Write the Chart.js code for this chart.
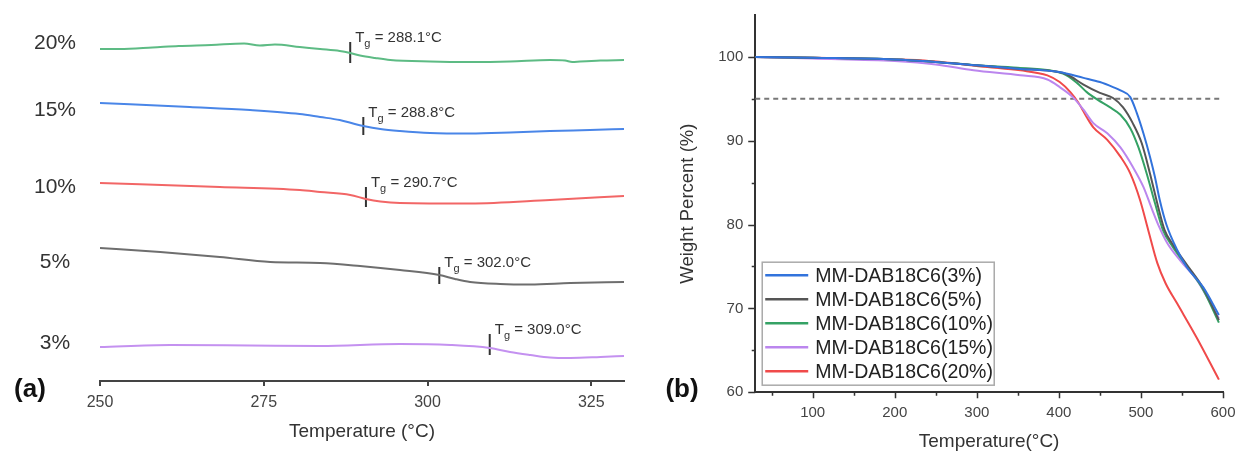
<!DOCTYPE html>
<html>
<head>
<meta charset="utf-8">
<script src="https://cdn.jsdelivr.net/npm/chart.js@4.4.0/dist/chart.umd.min.js"></script>
<style>
  html, body { margin: 0; padding: 0; background: #fff; }
  #wrap { position: relative; width: 1239px; height: 453px; }
  #dscBox { position: absolute; left: 0; top: 0; }
  #tgaBox { position: absolute; left: 640px; top: 0; }
</style>
</head>
<body>
<div id="wrap">
  <div id="dscBox"><canvas id="dscCanvas" width="640" height="453"></canvas></div>
  <div id="tgaBox"><canvas id="tgaCanvas" width="599" height="453"></canvas></div>
</div>
<script>
const FONT = "'Liberation Sans', Arial, sans-serif";

// ---- (a) DSC curves, stacked with an offset (heat flow in arbitrary units)
const dscNames = ["20%", "15%", "10%", "5%", "3%"];
const dscTicks = [250, 275, 300, 325];

const dsc20Temp = [250, 253, 258, 262, 267, 272, 274.4, 276.7, 280.5, 283.6, 286.6, 288.2, 289.7, 292, 294.3, 300.4, 306.5, 312.6, 318.7, 321, 322.1, 323.3, 326.4, 330];
const dsc20Heat = [332, 332, 333.5, 335, 336, 337.5, 335.5, 336.5, 334, 332, 330, 328, 325.5, 323, 321, 319.5, 319, 319.5, 321, 320.5, 319, 319.5, 320.5, 321];
const dsc15Temp = [250, 263.7, 272.9, 280.5, 283.6, 286.6, 288.9, 290.2, 292.8, 295.8, 300.4, 306.5, 312.6, 318.7, 324.8, 330];
const dsc15Heat = [278, 274, 271, 267, 264, 261, 257, 255, 252, 250, 248, 247.5, 248.5, 250, 251, 252];
const dsc10Temp = [250, 268.3, 280.5, 283.6, 288.2, 290.6, 292.8, 295.8, 306.5, 318.7, 330];
const dsc10Heat = [198, 194, 191, 189, 186, 182, 179.5, 178, 177.5, 181, 185];
const dsc5Temp = [250, 259.2, 268.3, 276, 283.6, 289.7, 295.8, 301.8, 304.2, 306.5, 311.1, 315.7, 321.8, 330];
const dsc5Heat = [133, 129, 124, 119, 118, 115, 111, 106, 102, 99, 97, 96.5, 98, 99];
const dsc3Temp = [250, 260.7, 272.9, 283.6, 295.8, 303.5, 309.5, 312.6, 315.7, 318.7, 321.8, 326.4, 330];
const dsc3Heat = [34, 36, 35.5, 35, 37, 36, 33, 29, 26, 23.5, 23, 24, 25];

const dscNameLevel = [338, 271, 194, 119, 38];
const tgValues = ["288.1", "288.8", "290.7", "302.0", "309.0"];
const tgMarkTemp = [288.2, 290.2, 290.6, 301.8, 309.5];
const tgMarkLow = [318, 246, 174, 97, 26];
const tgMarkHigh = [339, 264, 194, 114, 47];

// ---- (b) TGA curves
const tgaNames = ["MM-DAB18C6(3%)", "MM-DAB18C6(5%)", "MM-DAB18C6(10%)", "MM-DAB18C6(15%)", "MM-DAB18C6(20%)"];
const tgaXTicks = [50, 100, 150, 200, 250, 300, 350, 400, 450, 500, 550, 600];
const tgaYTicks = [60, 65, 70, 75, 80, 85, 90, 95, 100];
const tgaRefLine = 95;

const tga3Temp = [30, 100, 200, 250, 300, 350, 400, 430, 450, 466, 475, 487, 495, 503, 511, 517, 523, 531, 544, 556, 576, 595];
const tga3Weight = [100, 99.9, 99.7, 99.4, 99.0, 98.6, 98.2, 97.5, 97.0, 96.4, 96.0, 95.2, 93.3, 90.9, 88.1, 85.7, 82.9, 80.0, 77.0, 74.9, 72.5, 69.2];
const tga5Temp = [30, 100, 200, 250, 300, 350, 400, 410, 430, 450, 466, 478, 490, 501, 511, 521, 529, 539, 556, 576, 595];
const tga5Weight = [100, 99.9, 99.7, 99.4, 99.0, 98.6, 98.2, 97.9, 96.7, 95.7, 95.1, 94.0, 92.1, 89.7, 86.1, 82.1, 79.3, 77.6, 75.2, 72.4, 68.6];
const tga10Temp = [30, 100, 200, 250, 300, 350, 405, 422, 434, 447, 462, 475, 487, 497, 507, 517, 527, 539, 556, 576, 595];
const tga10Weight = [100, 99.9, 99.7, 99.4, 99.0, 98.7, 98.0, 96.9, 95.8, 94.9, 94.0, 93.1, 91.5, 89.2, 86.1, 82.6, 79.3, 77.3, 75.0, 72.2, 68.3];
const tga15Temp = [30, 100, 200, 250, 296, 353, 386, 401, 417, 430, 442, 459, 475, 490, 503, 514, 521, 532, 548, 568, 595];
const tga15Weight = [100, 99.8, 99.5, 99.1, 98.4, 97.8, 97.3, 96.4, 95.2, 93.7, 92.1, 90.9, 89.2, 86.9, 84.5, 81.7, 80.0, 77.8, 75.7, 73.4, 68.8];
const tga20Temp = [30, 100, 200, 231, 313, 353, 386, 401, 414, 424, 434, 442, 459, 475, 487, 499, 509, 520, 530, 544, 568, 595];
const tga20Weight = [100, 99.9, 99.7, 99.6, 98.8, 98.4, 97.8, 97.0, 95.8, 94.5, 92.8, 91.6, 90.1, 88.1, 86.1, 82.9, 79.3, 75.4, 73.0, 70.6, 66.5, 61.5];

const toPoints = (xs, ys) => xs.map((v, i) => ({ x: v, y: ys[i] }));

// ================= (a) =================
const dscColors = ["#5dbb84", "#4a86e8", "#f26666", "#6e6e6e", "#c491f0"];
const dscSeries = [
  toPoints(dsc20Temp, dsc20Heat),
  toPoints(dsc15Temp, dsc15Heat),
  toPoints(dsc10Temp, dsc10Heat),
  toPoints(dsc5Temp, dsc5Heat),
  toPoints(dsc3Temp, dsc3Heat),
];

const dscDatasets = dscSeries.map((pts, i) => ({
  label: dscNames[i],
  data: pts,
  borderColor: dscColors[i],
  borderWidth: 2,
  pointRadius: 0,
  cubicInterpolationMode: "monotone",
}));

// Tg marks: short vertical ticks
tgMarkTemp.forEach((t, i) => {
  dscDatasets.push({
    label: "Tg " + tgValues[i],
    data: [{ x: t, y: tgMarkLow[i] }, { x: t, y: tgMarkHigh[i] }],
    borderColor: "#333",
    borderWidth: 2,
    pointRadius: 0,
  });
});

const dscLabels = {
  id: "dscLabels",
  afterDraw(chart) {
    const { ctx, scales: { x, y } } = chart;
    ctx.save();
    ctx.fillStyle = "#333";
    ctx.textBaseline = "middle";

    // sample names on the left
    ctx.font = `21px ${FONT}`;
    ctx.textAlign = "center";
    dscNames.forEach((n, i) => {
      ctx.fillText(n, 55, y.getPixelForValue(dscNameLevel[i]));
    });

    // Tg annotations
    ctx.textAlign = "left";
    tgValues.forEach((v, i) => {
      let px = x.getPixelForValue(tgMarkTemp[i]) + 5;
      const py = y.getPixelForValue(tgMarkHigh[i]) - 4;
      ctx.font = `15px ${FONT}`;
      ctx.fillText("T", px, py);
      px += ctx.measureText("T").width;
      ctx.font = `11px ${FONT}`;
      ctx.fillText("g", px, py + 6);
      px += ctx.measureText("g").width;
      ctx.font = `15px ${FONT}`;
      ctx.fillText(" = " + v + "°C", px, py);
    });

    ctx.font = `bold 26px ${FONT}`;
    ctx.textAlign = "center";
    ctx.fillStyle = "#111";
    ctx.fillText("(a)", 30, 390);
    ctx.restore();
  },
};

new Chart(document.getElementById("dscCanvas"), {
  type: "line",
  data: { datasets: dscDatasets },
  options: {
    responsive: false,
    animation: false,
    layout: { padding: { left: 100, right: 16, top: 1, bottom: 10 } },
    plugins: { legend: { display: false }, tooltip: { enabled: false } },
    scales: {
      x: {
        type: "linear",
        min: 250,
        max: 330,
        afterBuildTicks: (s) => { s.ticks = dscTicks.map((v) => ({ value: v })); },
        grid: { display: true, drawOnChartArea: false, drawTicks: true, tickLength: 5, color: "#444", lineWidth: 2 },
        border: { display: true, color: "#444", width: 2 },
        ticks: { font: { family: FONT, size: 16 }, color: "#444", padding: 7, maxRotation: 0 },
        title: { display: true, text: "Temperature (°C)", font: { family: FONT, size: 19 }, color: "#333", padding: { top: 1, bottom: 0 } },
      },
      y: { display: false, min: 0, max: 380 },
    },
  },
  plugins: [dscLabels],
});

// ================= (b) =================
const tgaColors = ["#3273dc", "#555555", "#35a265", "#bb86ee", "#f04a4a"];
const tgaSeries = [
  toPoints(tga3Temp, tga3Weight),
  toPoints(tga5Temp, tga5Weight),
  toPoints(tga10Temp, tga10Weight),
  toPoints(tga15Temp, tga15Weight),
  toPoints(tga20Temp, tga20Weight),
];

const tgaDatasets = tgaSeries.map((pts, i) => ({
  label: tgaNames[i],
  data: pts,
  borderColor: tgaColors[i],
  borderWidth: 2,
  pointRadius: 0,
  cubicInterpolationMode: "monotone",
}));

// 95 % reference line
tgaDatasets.push({
  label: "ref",
  data: [{ x: 30, y: tgaRefLine }, { x: 600, y: tgaRefLine }],
  borderColor: "#777",
  borderWidth: 2,
  borderDash: [5, 4],
  pointRadius: 0,
});

const tgaDecor = {
  id: "tgaDecor",
  afterDraw(chart) {
    const { ctx, chartArea: a, scales: { x, y } } = chart;
    ctx.save();

    // tick marks, major longer than minor
    ctx.strokeStyle = "#333";
    ctx.lineWidth = 1.5;
    ctx.beginPath();
    y.ticks.forEach((t) => {
      const py = Math.round(y.getPixelForValue(t.value)) + 0.5;
      const len = t.value % 10 === 0 ? 7 : 3.5;
      ctx.moveTo(a.left, py);
      ctx.lineTo(a.left - len, py);
    });
    x.ticks.forEach((t) => {
      const px = Math.round(x.getPixelForValue(t.value)) + 0.5;
      const len = t.value % 100 === 0 ? 6 : 3.5;
      ctx.moveTo(px, a.bottom);
      ctx.lineTo(px, a.bottom + len);
    });
    ctx.stroke();

    // legend box
    const bx = a.left + 7, by = a.bottom - 130, bw = 232, bh = 123;
    ctx.fillStyle = "#fff";
    ctx.fillRect(bx, by, bw, bh);
    ctx.strokeStyle = "#aaa";
    ctx.lineWidth = 1.5;
    ctx.strokeRect(bx, by, bw, bh);
    ctx.font = `19.5px ${FONT}`;
    ctx.textBaseline = "middle";
    ctx.textAlign = "left";
    tgaNames.forEach((n, i) => {
      const ry = by + 13 + i * 24;
      ctx.strokeStyle = tgaColors[i];
      ctx.lineWidth = 2.5;
      ctx.beginPath();
      ctx.moveTo(bx + 3, ry);
      ctx.lineTo(bx + 46, ry);
      ctx.stroke();
      ctx.fillStyle = "#222";
      ctx.fillText(n, bx + 53, ry + 1);
    });

    ctx.font = `bold 26px ${FONT}`;
    ctx.textAlign = "center";
    ctx.fillStyle = "#111";
    ctx.fillText("(b)", 42, 390);
    ctx.restore();
  },
};

new Chart(document.getElementById("tgaCanvas"), {
  type: "line",
  data: { datasets: tgaDatasets },
  options: {
    responsive: false,
    animation: false,
    layout: { padding: { left: 37, right: 16, top: 15, bottom: 0 } },
    plugins: { legend: { display: false }, tooltip: { enabled: false } },
    scales: {
      x: {
        type: "linear",
        min: 30,
        max: 600,
        afterBuildTicks: (s) => { s.ticks = tgaXTicks.map((v) => ({ value: v })); },
        // grid hidden; tick marks drawn by tgaDecor, tickLength only spaces the labels
        grid: { display: false, drawTicks: true, tickLength: 9 },
        border: { display: true, color: "#333", width: 2 },
        ticks: {
          font: { family: FONT, size: 15 }, color: "#444", padding: 3, maxRotation: 0, autoSkip: false,
          callback: (v) => (v % 100 === 0 ? v : ""),
        },
        title: { display: true, text: "Temperature(°C)", font: { family: FONT, size: 19 }, color: "#333", padding: { top: 5, bottom: 0 } },
      },
      y: {
        type: "linear",
        min: 60,
        max: 105,
        afterBuildTicks: (s) => { s.ticks = tgaYTicks.map((v) => ({ value: v })); },
        grid: { display: false, drawTicks: true, tickLength: 9 },
        border: { display: true, color: "#333", width: 2 },
        ticks: {
          font: { family: FONT, size: 15 }, color: "#444", padding: 3, autoSkip: false,
          callback: (v) => (v % 10 === 0 ? v : ""),
        },
        title: { display: true, text: "Weight Percent (%)", font: { family: FONT, size: 18.5 }, color: "#333", padding: { top: 0, bottom: 16 } },
      },
    },
  },
  plugins: [tgaDecor],
});
</script>
</body>
</html>
